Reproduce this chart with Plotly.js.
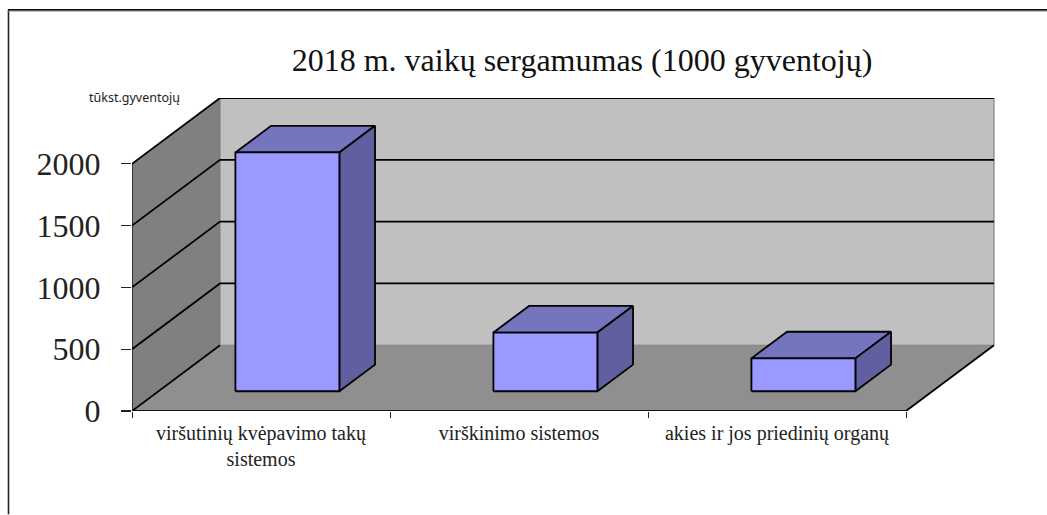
<!DOCTYPE html>
<html>
<head>
<meta charset="utf-8">
<script src="https://cdn.plot.ly/plotly-3.0.1.min.js"></script>
<style>html,body{margin:0;padding:0;background:#fff;overflow:hidden}#chart{width:1047px;height:515px}</style>
</head>
<body>
<div id="chart"></div>
<script>
const categories = ["viršutinių kvėpavimo takų<br>sistemos", "virškinimo sistemos", "akies ir jos priedinių organų"];
const values = [1932, 475, 266];
const yTicks = [0, 500, 1000, 1500, 2000];
const titleText = "2018 m. vaikų sergamumas (1000 gyventojų)";
const unitText = "tūkst.gyventojų";

// Oblique 3D projection expressed in axis units
const W = 1047, H = 515;
const L = 132, T = 97.5, PW = 863, PH = 314;
const slotPx = 258, pxPer = 248 / 2000;
const depthX = 88 / slotPx, depthY = 66 / pxPer;
const xMax = PW / slotPx, yMax = PH / pxPer;
const nCat = categories.length, yTop = 2000;
const barWidth = 0.403, d1 = 0.3, d2 = 0.705;

function P(x, y, d) { return [x + d * depthX, y + d * depthY]; }
function poly(pts, fill, lineColor, lineWidth, close) {
  const p = close ? pts.concat([pts[0]]) : pts;
  return {
    type: "scatter", mode: "lines", x: p.map(q => q[0]), y: p.map(q => q[1]),
    fill: fill ? "toself" : "none", fillcolor: fill || undefined,
    line: { color: lineColor || "rgba(0,0,0,0)", width: lineWidth || 0, simplify: false },
    hoverinfo: "skip", showlegend: false, cliponaxis: false
  };
}

const traces = [];
// Walls and floor
traces.push(poly([P(0,0,1), P(nCat,0,1), P(nCat,yTop,1), P(0,yTop,1)], "#c0c0c0", null, 0, true));
traces.push(poly([P(0,0,0), P(0,yTop,0), P(0,yTop,1), P(0,0,1)], "#808080", null, 0, true));
traces.push(poly([P(0,0,0), P(nCat,0,0), P(nCat,0,1), P(0,0,1)], "#8f8f8f", null, 0, true));
// Wall edges
traces.push(poly([P(nCat,0,1), P(nCat,yTop,1)], null, "#808080", 1.2));
traces.push(poly([P(0,0,0), P(0,yTop,0)], null, "#222222", 1.6));
traces.push(poly([P(0,0,1), P(0,yTop,1)], null, "#777777", 1));
traces.push(poly([P(0,0,1), P(nCat,0,1)], null, "#808080", 1));
// Gridlines along the side wall and back wall
yTicks.forEach(v => {
  if (v === 0) {
    traces.push(poly([P(0,0,0), P(0,0,1)], null, "#000", 1.8));
    traces.push(poly([P(nCat,0,0), P(nCat,0,1)], null, "#000", 1.8));
  } else {
    traces.push(poly([P(0,v,0), P(0,v,1), P(nCat,v,1)], null, "#000", 1.8));
  }
});
// Front axis line
traces.push(poly([P(0,0,0), P(nCat,0,0)], null, "#111", 2));
// Bars
values.forEach((v, i) => {
  const a = i + 0.5 - barWidth / 2, b = i + 0.5 + barWidth / 2;
  traces.push(poly([P(a,v,d1), P(a,v,d2), P(b,v,d2), P(b,v,d1)], "#7474bf", "#000", 1.8, true));
  traces.push(poly([P(b,0,d1), P(b,0,d2), P(b,v,d2), P(b,v,d1)], "#6060a0", "#000", 1.8, true));
  traces.push(poly([P(a,0,d1), P(b,0,d1), P(b,v,d1), P(a,v,d1)], "#9999ff", "#000", 1.8, true));
});

const serif = "'Liberation Serif', serif";
const fx = px => (px - L) / PW, fy = py => 1 - (py - T) / PH;
const frame = (x0, y0, x1, y1, c, w) => ({ type: "line", xref: "paper", yref: "paper",
  x0: fx(x0), x1: fx(x1), y0: fy(y0), y1: fy(y1), line: { color: c, width: w }, layer: "above" });

const layout = {
  width: W, height: H,
  margin: { l: L, t: T, r: W - L - PW, b: H - T - PH, pad: 0 },
  paper_bgcolor: "#fff", plot_bgcolor: "rgba(0,0,0,0)",
  showlegend: false,
  title: { text: titleText, x: 582 / W, xanchor: "center", xref: "container",
           y: 1 - 60 / H, yanchor: "middle", yref: "container",
           font: { family: serif, size: 32, color: "#111" } },
  xaxis: {
    range: [0, xMax], showgrid: false, zeroline: false, showline: false, fixedrange: true,
    tickmode: "array", tickvals: categories.map((c, i) => i + 0.5), ticktext: categories,
    ticks: "", tickangle: 0, ticklabelstandoff: 8,
    tickfont: { family: serif, size: 20, color: "#222" },
    minor: { tickmode: "array", tickvals: [0, 1, 2, 3], ticks: "outside", ticklen: 6, tickwidth: 1, tickcolor: "#222", showgrid: false }
  },
  yaxis: {
    range: [0, yMax], showgrid: false, zeroline: false, showline: false, fixedrange: true,
    tickmode: "array", tickvals: yTicks, ticktext: yTicks.map(String),
    ticks: "outside", ticklen: 10, tickwidth: 1.2, tickcolor: "#222", ticklabelstandoff: 14,
    tickfont: { family: serif, size: 32, color: "#222" }
  },
  annotations: [{
    text: unitText, showarrow: false, xref: "paper", yref: "paper",
    x: fx(134), xanchor: "center", y: fy(97), yanchor: "middle",
    font: { family: "'Noto Sans', sans-serif", size: 12.5, color: "#222" }
  }],
  shapes: [
    frame(8.5, 9, 8.5, 515, "#222", 1.6),
    frame(8, 9, 1047, 9, "#111", 1.8),
    frame(8, 10.5, 1047, 10.5, "#999", 0.8)
  ]
};
Plotly.newPlot("chart", traces, layout, { displayModeBar: false, staticPlot: true });
</script>
</body>
</html>
